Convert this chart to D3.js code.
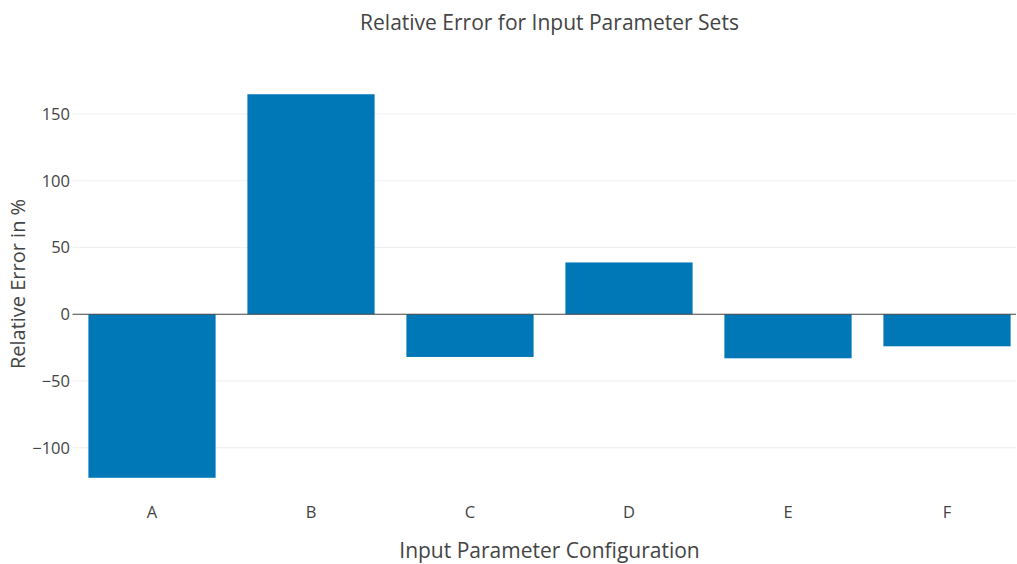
<!DOCTYPE html>
<html><head><meta charset="utf-8">
<script src="https://cdn.jsdelivr.net/npm/d3@7"></script>
<style>body{margin:0;background:#fff}svg{display:block}text{font-family:"Open Sans",sans-serif;fill:#444}</style>
</head><body><svg id="c" width="1017" height="564"></svg>
<script>
const categories = ["A","B","C","D","E","F"];
const values = [-122.5, 164.8, -32, 38.8, -33, -24];
const yTicks = [-100, -50, 0, 50, 100, 150];

const svg = d3.select("#c");
const x = d3.scaleBand().domain(categories).range([72.5, 1026.5]).paddingInner(0.2).paddingOuter(0.1);
const y = d3.scaleLinear().domain([-50, 150]).range([381, 114]);
const xEnd = 1016;

svg.append("g").selectAll("line").data(yTicks.filter(d=>d!==0)).join("line")
  .attr("x1",72.5).attr("x2",xEnd).attr("y1",d=>y(d)).attr("y2",d=>y(d))
  .attr("stroke","#eee").attr("stroke-width",1);

svg.append("g").selectAll("rect").data(categories).join("rect")
  .attr("x",d=>x(d)).attr("width",x.bandwidth())
  .attr("y",(d,i)=>y(Math.max(0,values[i])))
  .attr("height",(d,i)=>Math.abs(y(values[i])-y(0)))
  .attr("fill","#0077b6");

svg.append("line").attr("x1",72.5).attr("x2",xEnd).attr("y1",y(0)).attr("y2",y(0))
  .attr("stroke","#444").attr("stroke-width",1);

const yAxis = d3.axisLeft(y).tickValues(yTicks).tickSize(0).tickPadding(0)
  .tickFormat(d=>d<0?"\u2212"+Math.abs(d):d);
const ya = svg.append("g").attr("transform","translate(70,0)").call(yAxis);
ya.select(".domain").remove();
ya.selectAll("text").attr("font-size",16.5).attr("font-family","Open Sans").attr("fill","#444");

const xAxis = d3.axisBottom(x).tickSize(0).tickPadding(0);
const xa = svg.append("g").attr("transform","translate(0,506)").call(xAxis);
xa.select(".domain").remove();
xa.selectAll("text").attr("font-size",16.5).attr("font-family","Open Sans").attr("fill","#444");

svg.append("text").attr("x",549.5).attr("y",30).attr("text-anchor","middle").attr("font-size",21).text("Relative Error for Input Parameter Sets");
svg.append("text").attr("x",549.5).attr("y",558).attr("text-anchor","middle").attr("font-size",21).text("Input Parameter Configuration");
svg.append("text").attr("transform","translate(25,284) rotate(-90)").attr("text-anchor","middle").attr("font-size",20).text("Relative Error in %");
</script></body></html>
